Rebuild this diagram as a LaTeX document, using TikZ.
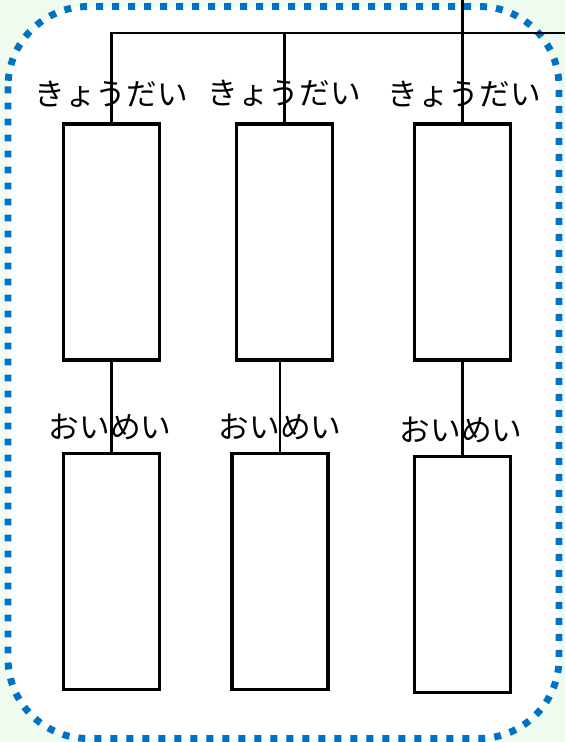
\documentclass[tikz,border=0pt]{standalone}
\usepackage{fontspec}
\newfontfamily\jpfont{Noto Sans CJK JP}
\usetikzlibrary{positioning}
\definecolor{mintbg}{HTML}{F0FBF0}
\definecolor{dotblue}{HTML}{0072C6}

\begin{document}
\begin{tikzpicture}[
  x=0.75pt, y=-0.75pt,
  member/.style={draw=black, line width=2.4pt, fill=white,
    minimum width=72pt, minimum height=177pt, inner sep=0pt},
  tag/.style={font=\jpfont\fontsize{23}{27}\selectfont, text=black, inner sep=0pt},
  link/.style={line width=1.9pt, black},
]

% Background
\useasboundingbox (0,0) rectangle (565,742);
\fill[mintbg] (0,0) rectangle (565,742);
\draw[dotblue, fill=white, line width=5.2pt, dash pattern=on 5.2pt off 6.8pt,
  rounded corners=60pt] (8,6.5) rectangle (559,738.5);

% =============================================
% Top row: siblings
% =============================================
\node[member] (b1) at (111.5,242) {};
\node[member] (b2) at (284.5,242) {};
\node[member] (b3) at (462.5,242) {};

% =============================================
% Bottom row: nephews and nieces
% =============================================
\node[member] (b4) at (111.5,571.5) {};
\node[member] (b5) at (280,571.5) {};
\node[member] (b6) at (462.5,574.5) {};

% Links
\coordinate (bar) at (565,33);
\coordinate (feed) at (464,0);
\draw[link] (b1.north) |- (bar);
\draw[link] (b2.north) -- (b2.north |- bar);
\draw[link] (b3.north) -- (b3.north |- feed);

\draw[link] (b1.south) -- (b4.north);
\draw[link] (b5.north |- b2.south) -- (b5.north);
\draw[link] (b3.south) -- (b6.north);

% Labels
\node[tag] (s1) at (111,94) {きょうだい};
\node[tag] (s2) at (284,93) {きょうだい};
\node[tag] (s3) at (464,94) {きょうだい};

\node[tag] (n1) at (110,427) {おいめい};
\node[tag] (n2) at (280,427) {おいめい};
\node[tag] (n3) at (461,430) {おいめい};

\end{tikzpicture}
\end{document}
